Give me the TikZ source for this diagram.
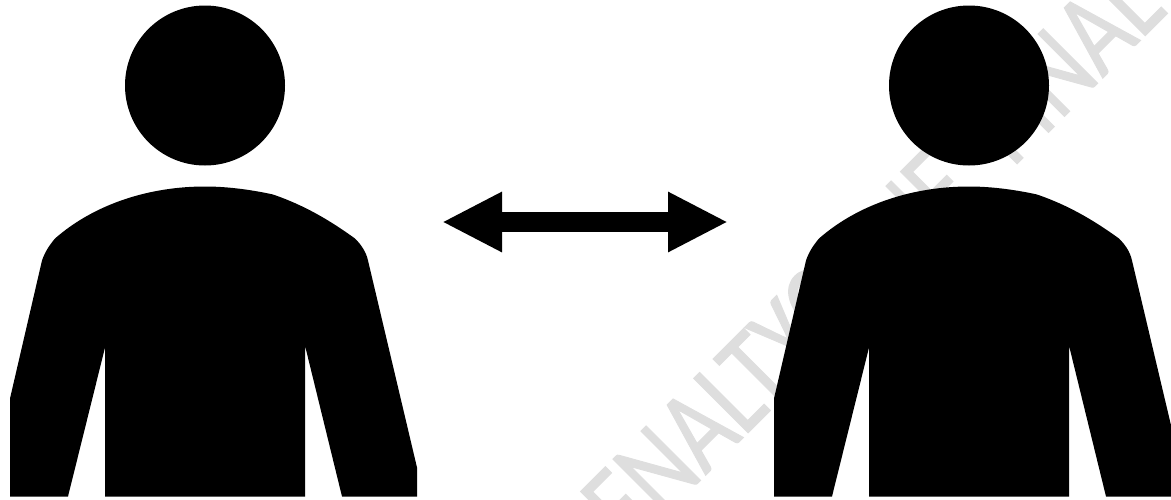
\documentclass[tikz,border=0pt]{standalone}
\usepackage{fontspec}
\newfontfamily\wmfont[FakeStretch=0.78,FakeBold=0.8]{Carlito}
\usetikzlibrary{arrows.meta, positioning}
\tikzset{
  head/.style = {circle, fill=black, inner sep=0pt, minimum size=160pt},
  wm/.style = {text=black!13, font=\wmfont\fontsize{120}{120}\selectfont,
    rotate=45, anchor=base west, inner sep=0pt},
  seta/.style = {{Triangle[length=60pt,width=56pt]}-{Triangle[length=60pt,width=56pt]},
    line width=20pt, draw=black},
  person/.pic = {
    \fill[black] (-195,313) -- (-163,175)
      .. controls (-160,166) and (-155,159) .. (-150,153)
      .. controls (-110,118) and (-55,101) .. (0,101)
      .. controls (25,101) and (50,105) .. (68,109)
      .. controls (100,120) and (125,135) .. (150,153)
      .. controls (156,159) and (161,166) .. (163,175)
      -- (212,382) -- (212,411) -- (137,411) -- (100,260) -- (100,411)
      -- (-100,411) -- (-100,262) -- (-137,411) -- (-195,411) -- cycle;
  }
}

\begin{document}
\begin{tikzpicture}[x=1pt, y=-1pt]
  \useasboundingbox (0,0) rectangle (1171,499);
  \node [wm] (mark) at (596,585) {PENALTY\hspace{-.2em} CONF\hspace{.2em} FINAL};
  \node [head] (headl) at (205,85.5) {};
  \node [head] (headr) at (969,85.5) {};
  \pic at (headl.center) {person};
  \pic at (headr.center) {person};
  \coordinate (tipl) at (442,222);
  \coordinate (tipr) at (728,222);
  \draw [seta] (tipl) -- (tipr);
\end{tikzpicture}
\end{document}
